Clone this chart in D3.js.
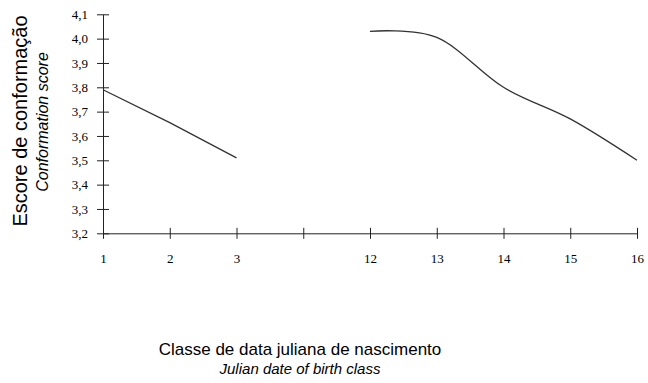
<!DOCTYPE html>
<html>
<head>
<meta charset="utf-8">
<script src="https://cdn.jsdelivr.net/npm/d3@7"></script>
<style>
  html, body { margin: 0; padding: 0; background: #fff; }
  svg { display: block; }
</style>
</head>
<body>
<svg id="chart" width="648" height="383"></svg>
<script>
// ---- Data ----
const categories = ["1", "2", "3", "", "12", "13", "14", "15", "16"];
const earlyClasses = ["1", "2", "3"];
const earlyScores = [3.79, 3.655, 3.51];
const lateClasses = ["12", "13", "14", "15", "16"];
const lateScores = [4.03, 4.005, 3.80, 3.67, 3.50];
const yTicks = [3.2, 3.3, 3.4, 3.5, 3.6, 3.7, 3.8, 3.9, 4.0, 4.1];

const yTitle = "Escore de conformação";
const yTitleEn = "Conformation score";
const xTitle = "Classe de data juliana de nascimento";
const xTitleEn = "Julian date of birth class";

// ---- Layout ----
const svg = d3.select("#chart");
const x = d3.scalePoint().domain(categories).range([103, 637]);
const y = d3.scaleLinear().domain([3.2, 4.1]).range([233.3, 14.3]);

const axisColor = "#222";
const serif = "'Liberation Serif', 'Times New Roman', serif";
const sans = "'Liberation Sans', Arial, sans-serif";

// Y axis
const yAxis = d3.axisLeft(y)
  .tickValues(yTicks)
  .tickSizeInner(6)
  .tickSizeOuter(0)
  .tickPadding(9)
  .tickFormat(d => d3.format(".1f")(d).replace(".", ","));
const gy = svg.append("g").attr("transform", `translate(${x("1")},0)`).call(yAxis);
gy.select(".domain").attr("stroke", axisColor);
gy.selectAll(".tick line").attr("x1", 6).attr("stroke", axisColor);
gy.selectAll(".tick text")
  .attr("font-family", serif).attr("font-size", 13).attr("fill", "#000");

// X axis
const xAxis = d3.axisBottom(x).tickSizeInner(5.5).tickSizeOuter(0).tickPadding(8);
const gx = svg.append("g").attr("transform", `translate(0,${y(3.2)})`).call(xAxis);
gx.select(".domain").attr("stroke", axisColor);
gx.selectAll(".tick line").attr("y1", -5.5).attr("stroke", axisColor);
gx.selectAll(".tick text")
  .attr("font-family", serif).attr("font-size", 13).attr("fill", "#000")
  .attr("dy", null).attr("y", 30);
gy.attr("font-family", null); gx.attr("font-family", null);

// Lines
const early = earlyClasses.map((c, i) => ({ c, v: earlyScores[i] }));
const late = lateClasses.map((c, i) => ({ c, v: lateScores[i] }));

svg.append("path")
  .datum(early)
  .attr("fill", "none").attr("stroke", "#333").attr("stroke-width", 1.3)
  .attr("d", d3.line().x(d => x(d.c)).y(d => y(d.v)));

svg.append("path")
  .datum(late)
  .attr("fill", "none").attr("stroke", "#333").attr("stroke-width", 1.3)
  .attr("d", d3.line().x(d => x(d.c)).y(d => y(d.v)).curve(d3.curveCardinal.tension(0)));

// Titles
svg.append("text")
  .attr("transform", "translate(27,121) rotate(-90)")
  .attr("text-anchor", "middle")
  .attr("font-family", sans).attr("font-size", 20).attr("fill", "#000")
  .text(yTitle);
svg.append("text")
  .attr("transform", "translate(48,122) rotate(-90)")
  .attr("text-anchor", "middle")
  .attr("font-family", sans).attr("font-size", 16).attr("font-style", "italic").attr("fill", "#000")
  .text(yTitleEn);

svg.append("text")
  .attr("x", 300).attr("y", 355)
  .attr("text-anchor", "middle")
  .attr("font-family", sans).attr("font-size", 17).attr("fill", "#000")
  .text(xTitle);
svg.append("text")
  .attr("x", 300).attr("y", 374)
  .attr("text-anchor", "middle")
  .attr("font-family", sans).attr("font-size", 15).attr("font-style", "italic").attr("fill", "#000")
  .text(xTitleEn);
</script>
</body>
</html>
